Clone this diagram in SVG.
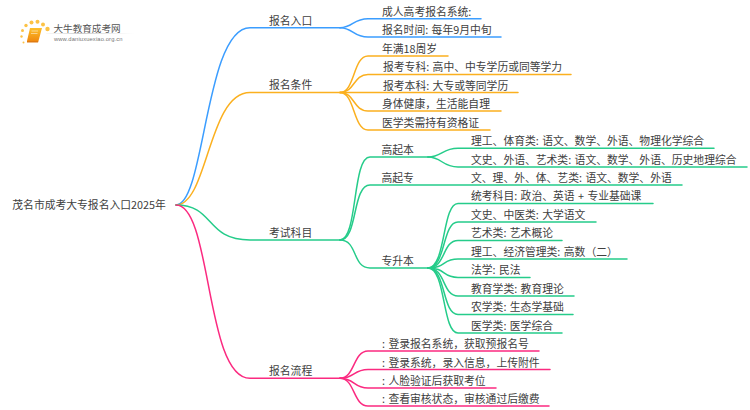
<svg xmlns="http://www.w3.org/2000/svg" width="750" height="410" viewBox="0 0 750 410">
<style>
text{font-family:"Noto Sans CJK SC","Liberation Sans",sans-serif;font-size:10.800px;fill:#404040;word-spacing:1px}
.c path{fill:none;stroke-width:1.500;stroke-linecap:round}
.b path{stroke:#3b9dff}.o path{stroke:#fbb01f}.g path{stroke:#25cc8a}.p path{stroke:#fb2a80}
</style>
<rect width="750" height="410" fill="#fff"/>
<g id="logo">
<defs><linearGradient id="bk" x1="0" y1="0" x2="0" y2="1"><stop offset="0" stop-color="#fdc02a"/><stop offset="1" stop-color="#f08a10"/></linearGradient>
<linearGradient id="ln" x1="0" y1="0" x2="1" y2="0"><stop offset="0" stop-color="#ddd" stop-opacity=".2"/><stop offset=".4" stop-color="#ccc"/><stop offset="1" stop-color="#ddd" stop-opacity="0"/></linearGradient></defs>
<g fill="#fcc245"><circle cx="23.500" cy="42.500" r="1"/><circle cx="21.500" cy="36.500" r="1.200"/><circle cx="22.500" cy="30.500" r="1.500"/><circle cx="26" cy="25.500" r="1.700"/><circle cx="31.500" cy="22.500" r="2"/><circle cx="37.500" cy="21.800" r="2"/><circle cx="43" cy="24.500" r="2"/><circle cx="47.500" cy="29" r="2.200"/></g>
<path d="M30 28h12l-3.500 13h-11.500z" fill="url(#bk)"/><path d="M27 41h11.500l-.5 1.500h-11z" fill="#e07a10"/>
<path d="M31.500 31h6.500M31 33.500h6.500" stroke="#fff" stroke-width=".7" opacity=".7"/>
<rect x="46" y="33" width="88" height="1" fill="url(#ln)"/>
<text x="53.500" y="31.500" style="font-size:9.600px;fill:#555">大牛教育成考网</text>
<text x="54" y="41" textLength="68.500" style="font-size:5.800px;fill:#777;font-family:'Liberation Sans',sans-serif">www.daniuxuexiao.org.cn</text>
</g>
<g id="connectors" class="c">
<g class="b">
<path d="M176 205C205 205 205 27.700 250 27.700H340"/>
<path d="M340 27.700C353 27.700 353 18.700 368 18.700H481"/>
<path d="M340 27.700C353 27.700 353 37 368 37H501"/>
</g>
<g class="o">
<path d="M176 205C208 205 208 92.500 250 92.500H340"/>
<path d="M340 92.500C355 92.500 353 56 368 56H448"/>
<path d="M340 92.500C355 92.500 353 74.500 368 74.500H571"/>
<path d="M340 92.500H518"/>
<path d="M340 92.500C355 92.500 353 111 368 111H501"/>
<path d="M340 92.500C355 92.500 353 130 368 130H490"/>
</g>
<g class="g">
<path d="M176 205C215 205 205 240 250 240H340"/>
<path d="M340 240C358 240 352 157 370 157H428"/>
<path d="M340 240C358 240 352 185 370 185H682"/>
<path d="M340 240C358 240 352 268 370 268H428"/>
<path d="M428 157C442 157 442 148.300 458 148.300H714"/>
<path d="M428 157C442 157 442 167 458 167H747"/>
<path d="M428 268C446 268 442 203.500 458 203.500H653"/>
<path d="M428 268C446 268 442 222 458 222H596"/>
<path d="M428 268C446 268 442 240.500 458 240.500H562"/>
<path d="M428 268C446 268 442 259 458 259H627"/>
<path d="M428 268C446 268 442 277.500 458 277.500H530"/>
<path d="M428 268C446 268 442 296 458 296H574"/>
<path d="M428 268C446 268 442 314.500 458 314.500H573"/>
<path d="M428 268C446 268 442 333 458 333H562"/>
</g>
<g class="p">
<path d="M176 205C212 205 205 378.300 250 378.300H340"/>
<path d="M340 378.300C355 378.300 353 351 368 351H539"/>
<path d="M340 378.300C355 378.300 353 369.500 368 369.500H550"/>
<path d="M340 378.300C355 378.300 353 388 368 388H496"/>
<path d="M340 378.300C355 378.300 353 406 368 406H549"/>
</g>
</g>
<g id="root"><text x="12.300" y="209">茂名市成考大专报名入口2025年</text></g>
<g id="n1"><text x="269" y="25">报名入口</text></g>
<g id="n1a"><text x="382" y="16">成人高考报名系统:</text></g>
<g id="n1b"><text x="382" y="34">报名时间: 每年9月中旬</text></g>
<g id="n2"><text x="269" y="89">报名条件</text></g>
<g id="n2a"><text x="382" y="53">年满18周岁</text></g>
<g id="n2b"><text x="383" y="71">报考专科: 高中、中专学历或同等学力</text></g>
<g id="n2c"><text x="383" y="90">报考本科: 大专或等同学历</text></g>
<g id="n2d"><text x="382" y="108">身体健康，生活能自理</text></g>
<g id="n2e"><text x="382" y="127">医学类需持有资格证</text></g>
<g id="n3"><text x="269" y="237">考试科目</text></g>
<g id="n3a"><text x="381.500" y="154">高起本</text></g>
<g id="n3a1"><text x="471" y="145">理工、体育类: 语文、数学、外语、物理化学综合</text></g>
<g id="n3a2"><text x="471" y="163.500">文史、外语、艺术类: 语文、数学、外语、历史地理综合</text></g>
<g id="n3b"><text x="381.500" y="182">高起专</text></g>
<g id="n3b1"><text x="471" y="182">文、理、外、体、艺类: 语文、数学、外语</text></g>
<g id="n3c"><text x="381.500" y="265">专升本</text></g>
<g id="n3c1"><text x="471" y="200">统考科目: 政治、英语 + 专业基础课</text></g>
<g id="n3c2"><text x="471" y="219">文史、中医类: 大学语文</text></g>
<g id="n3c3"><text x="471" y="237">艺术类: 艺术概论</text></g>
<g id="n3c4"><text x="471" y="256">理工、经济管理类: 高数（二）</text></g>
<g id="n3c5"><text x="471" y="274">法学: 民法</text></g>
<g id="n3c6"><text x="471" y="293">教育学类: 教育理论</text></g>
<g id="n3c7"><text x="471" y="311">农学类: 生态学基础</text></g>
<g id="n3c8"><text x="471" y="330">医学类: 医学综合</text></g>
<g id="n4"><text x="269" y="375">报名流程</text></g>
<g id="n4a"><text x="382" y="348">: 登录报名系统，获取预报名号</text></g>
<g id="n4b"><text x="382" y="366.500">: 登录系统，录入信息，上传附件</text></g>
<g id="n4c"><text x="382" y="385">: 人脸验证后获取考位</text></g>
<g id="n4d"><text x="382" y="403">: 查看审核状态，审核通过后缴费</text></g>
</svg>
